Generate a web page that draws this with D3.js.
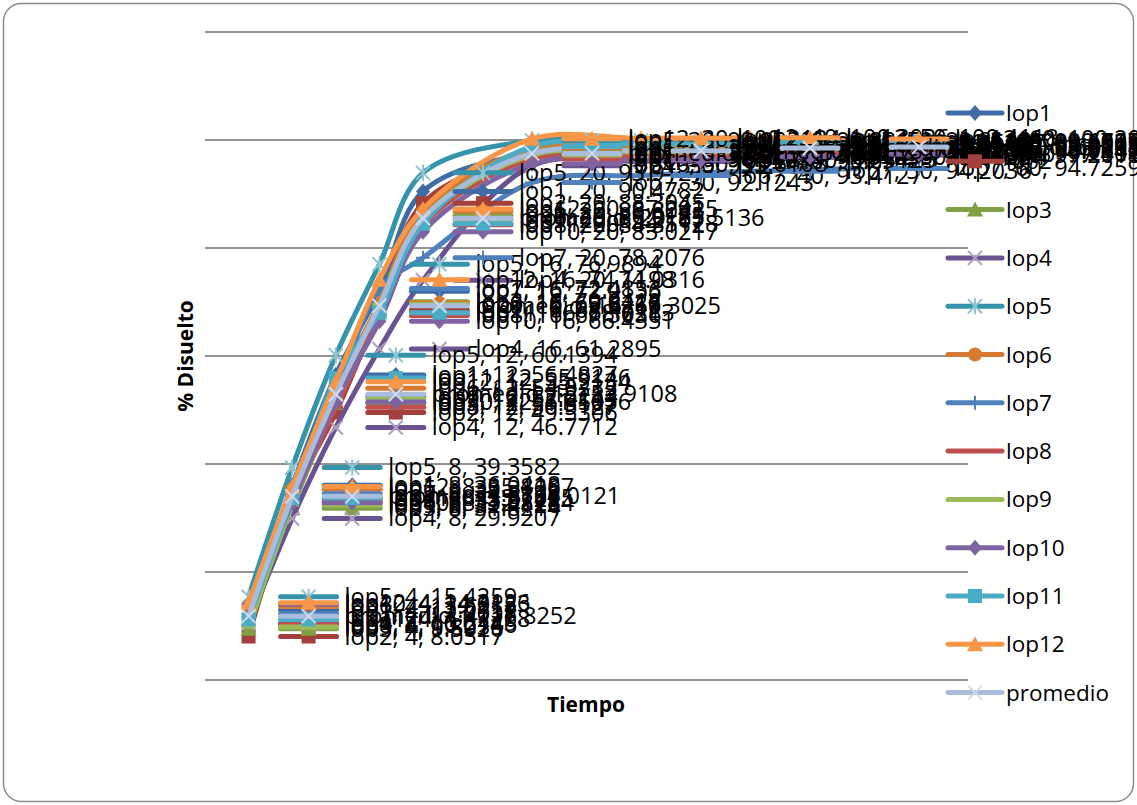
<!DOCTYPE html>
<html lang="es">
<head>
<meta charset="utf-8">
<title>% Disuelto vs Tiempo</title>
<script src="https://cdn.jsdelivr.net/npm/d3@7"></script>
<style>
  body { margin: 0; background: #fff; }
  svg text { font-family: "Open Sans", "DejaVu Sans", sans-serif; }
</style>
</head>
<body>
<div id="chart"></div>
<script>
// tiempos de muestreo
var times = [4, 8, 12, 16, 20, 30, 40, 50, 60];

// % disuelto por lote (los decimales son estimados)
var lop1 = [13.0152, 36.0418, 56.4827, 72.0136, 90.4782, 97.5214, 97.8063, 98.2147, 98.5032];
var lop2 = [8.0517, 33.5129, 49.5306, 68.4712, 88.3045, 97.0318, 97.5126, 98.0237, 98.3115];
var lop3 = [9.5026, 31.8214, 51.3107, 70.0418, 86.0125, 97.8036, 98.3142, 98.8015, 99.0213];
var lop4 = [10.5143, 29.9207, 46.7712, 61.2895, 74.0316, 95.2108, 96.0247, 96.8132, 97.2018];
var lop5 = [15.4259, 39.3582, 60.1394, 76.9894, 93.9127, 99.9038, 99.8815, 99.8142, 99.6027];
var lop6 = [13.6218, 35.3106, 54.0235, 69.8127, 86.8043, 98.5126, 99.0214, 99.3108, 99.5036];
var lop7 = [12.2037, 34.5128, 52.5214, 72.4853, 78.2076, 92.1243, 93.4127, 94.2036, 94.7259];
var lop8 = [10.2146, 33.0218, 50.5127, 67.5036, 84.3112, 96.5124, 97.0215, 97.6103, 98.0142];
var lop9 = [9.8035, 32.4126, 52.0143, 69.5218, 85.2107, 97.2136, 97.8024, 98.4117, 98.6205];
var lop10 = [14.0123, 32.8214, 51.5036, 66.4351, 83.0217, 95.6108, 96.3125, 96.9204, 97.4013];
var lop11 = [11.2108, 33.7025, 55.9146, 68.0213, 84.5128, 98.8036, 99.2114, 99.5207, 99.7031];
var lop12 = [14.3126, 35.8207, 55.2134, 74.1198, 87.2015, 100.2134, 100.3026, 100.4118, 100.2045];
var promedio = [11.8252, 34.0121, 52.9108, 69.3025, 85.5136, 97.5218, 98.0047, 98.5126, 98.7203];

var seriesNames = ["lop1", "lop2", "lop3", "lop4", "lop5", "lop6", "lop7",
                   "lop8", "lop9", "lop10", "lop11", "lop12", "promedio"];
var seriesValues = [lop1, lop2, lop3, lop4, lop5, lop6, lop7,
                    lop8, lop9, lop10, lop11, lop12, promedio];
var yTicks = [0, 20, 40, 60, 80, 100, 120];

// estilo de cada serie (tipo Excel)
var colors = ["#3F6CA6", "#A3403C", "#80A044", "#6A5290", "#3593AA", "#D57A32",
              "#4F81BD", "#C0504D", "#9BBB59", "#8064A2", "#4BACC6", "#F79646", "#A9BCDC"];
var markers = ["diamond", "square", "triangle", "x", "star", "circle", "plus",
               "dash", "dash", "diamond", "square", "triangle", "x"];

var width = 1137, height = 805;

var svg = d3.select("#chart").append("svg")
    .attr("width", width)
    .attr("height", height);

// marco redondeado
svg.append("rect")
    .attr("x", 3.5).attr("y", 3.5)
    .attr("width", width - 7).attr("height", height - 7)
    .attr("rx", 18)
    .attr("fill", "#fff")
    .attr("stroke", "#8c8c8c")
    .attr("stroke-width", 1.5);

var x = d3.scaleLinear().domain([0, 70]).range([205, 968]);
var y = d3.scaleLinear().domain([0, 120]).range([680, 32]);

// lineas de division
svg.append("g")
  .selectAll("line")
  .data(yTicks)
  .enter().append("line")
    .attr("x1", x(0)).attr("x2", x(70))
    .attr("y1", function(d) { return y(d); })
    .attr("y2", function(d) { return y(d); })
    .attr("stroke", "#262626")
    .attr("stroke-width", 1);

function lighter(c) {
  return d3.interpolateRgb(c, "#ffffff")(0.45);
}

function drawMarker(g, type, color, cx, cy) {
  var s = 7;
  if (type == "diamond") {
    g.append("path")
      .attr("d", "M" + cx + "," + (cy - s - 1) + "L" + (cx + s) + "," + cy +
                 "L" + cx + "," + (cy + s + 1) + "L" + (cx - s) + "," + cy + "Z")
      .attr("fill", color);
  } else if (type == "square") {
    g.append("rect")
      .attr("x", cx - s).attr("y", cy - s)
      .attr("width", 2 * s).attr("height", 2 * s)
      .attr("fill", color);
  } else if (type == "triangle") {
    g.append("path")
      .attr("d", "M" + cx + "," + (cy - s - 1) + "L" + (cx + s + 1) + "," + (cy + s) +
                 "L" + (cx - s - 1) + "," + (cy + s) + "Z")
      .attr("fill", color);
  } else if (type == "circle") {
    g.append("circle")
      .attr("cx", cx).attr("cy", cy).attr("r", s)
      .attr("fill", color);
  } else if (type == "x" || type == "star") {
    var lc = lighter(color);
    g.append("path")
      .attr("d", "M" + (cx - s) + "," + (cy - s) + "L" + (cx + s) + "," + (cy + s) +
                 "M" + (cx + s) + "," + (cy - s) + "L" + (cx - s) + "," + (cy + s) +
                 (type == "star" ? "M" + cx + "," + (cy - s - 1) + "L" + cx + "," + (cy + s + 1) : ""))
      .attr("stroke", lc)
      .attr("stroke-width", 2)
      .attr("fill", "none");
  } else if (type == "plus") {
    g.append("path")
      .attr("d", "M" + cx + "," + (cy - s) + "L" + cx + "," + (cy + s) +
                 "M" + (cx - s) + "," + cy + "L" + (cx + s) + "," + cy)
      .attr("stroke", color)
      .attr("stroke-width", 2);
  } else if (type == "dash") {
    g.append("line")
      .attr("x1", cx - s).attr("x2", cx + s)
      .attr("y1", cy).attr("y2", cy)
      .attr("stroke", color)
      .attr("stroke-width", 3);
  }
}

var line = d3.line()
    .x(function(d) { return x(d[0]); })
    .y(function(d) { return y(d[1]); })
    .curve(d3.curveCatmullRom.alpha(0.5));

// series: lineas y marcadores
seriesNames.forEach(function(name, i) {
  var pts = times.map(function(t, j) { return [t, seriesValues[i][j]]; });
  var g = svg.append("g");
  g.append("path")
    .datum(pts)
    .attr("d", line)
    .attr("fill", "none")
    .attr("stroke", colors[i])
    .attr("stroke-width", 5)
    .attr("stroke-linejoin", "round");
  pts.forEach(function(p) {
    drawMarker(g, markers[i], colors[i], x(p[0]), y(p[1]));
  });
});

// etiquetas de datos con clave de leyenda
seriesNames.forEach(function(name, i) {
  var g = svg.append("g");
  times.forEach(function(t, j) {
    var v = seriesValues[i][j];
    var px = x(t), py = y(v);
    g.append("line")
      .attr("x1", px + 32).attr("x2", px + 88)
      .attr("y1", py).attr("y2", py)
      .attr("stroke", colors[i])
      .attr("stroke-width", 5)
      .attr("stroke-linecap", "round");
    drawMarker(g, markers[i], colors[i], px + 60, py);
    g.append("text")
      .attr("x", px + 96)
      .attr("y", py + 8)
      .attr("font-size", 23.5)
      .attr("fill", "#000")
      .text(name + ", " + t + ", " + v);
  });
});

// leyenda
var legend = svg.append("g");
seriesNames.forEach(function(name, i) {
  var ly = 113 + i * 48.3;
  legend.append("line")
    .attr("x1", 948).attr("x2", 1002)
    .attr("y1", ly).attr("y2", ly)
    .attr("stroke", colors[i])
    .attr("stroke-width", 5)
    .attr("stroke-linecap", "round");
  drawMarker(legend, markers[i], colors[i], 975, ly);
  legend.append("text")
    .attr("x", 1006)
    .attr("y", ly + 8)
    .attr("font-size", 22.5)
    .attr("fill", "#000")
    .text(name);
});

// titulos de ejes
svg.append("text")
    .attr("x", 586).attr("y", 712)
    .attr("text-anchor", "middle")
    .attr("font-size", 21)
    .attr("font-weight", "bold")
    .text("Tiempo");

svg.append("text")
    .attr("transform", "translate(193,356) rotate(-90)")
    .attr("text-anchor", "middle")
    .attr("font-size", 21)
    .attr("font-weight", "bold")
    .text("% Disuelto");
</script>
</body>
</html>
